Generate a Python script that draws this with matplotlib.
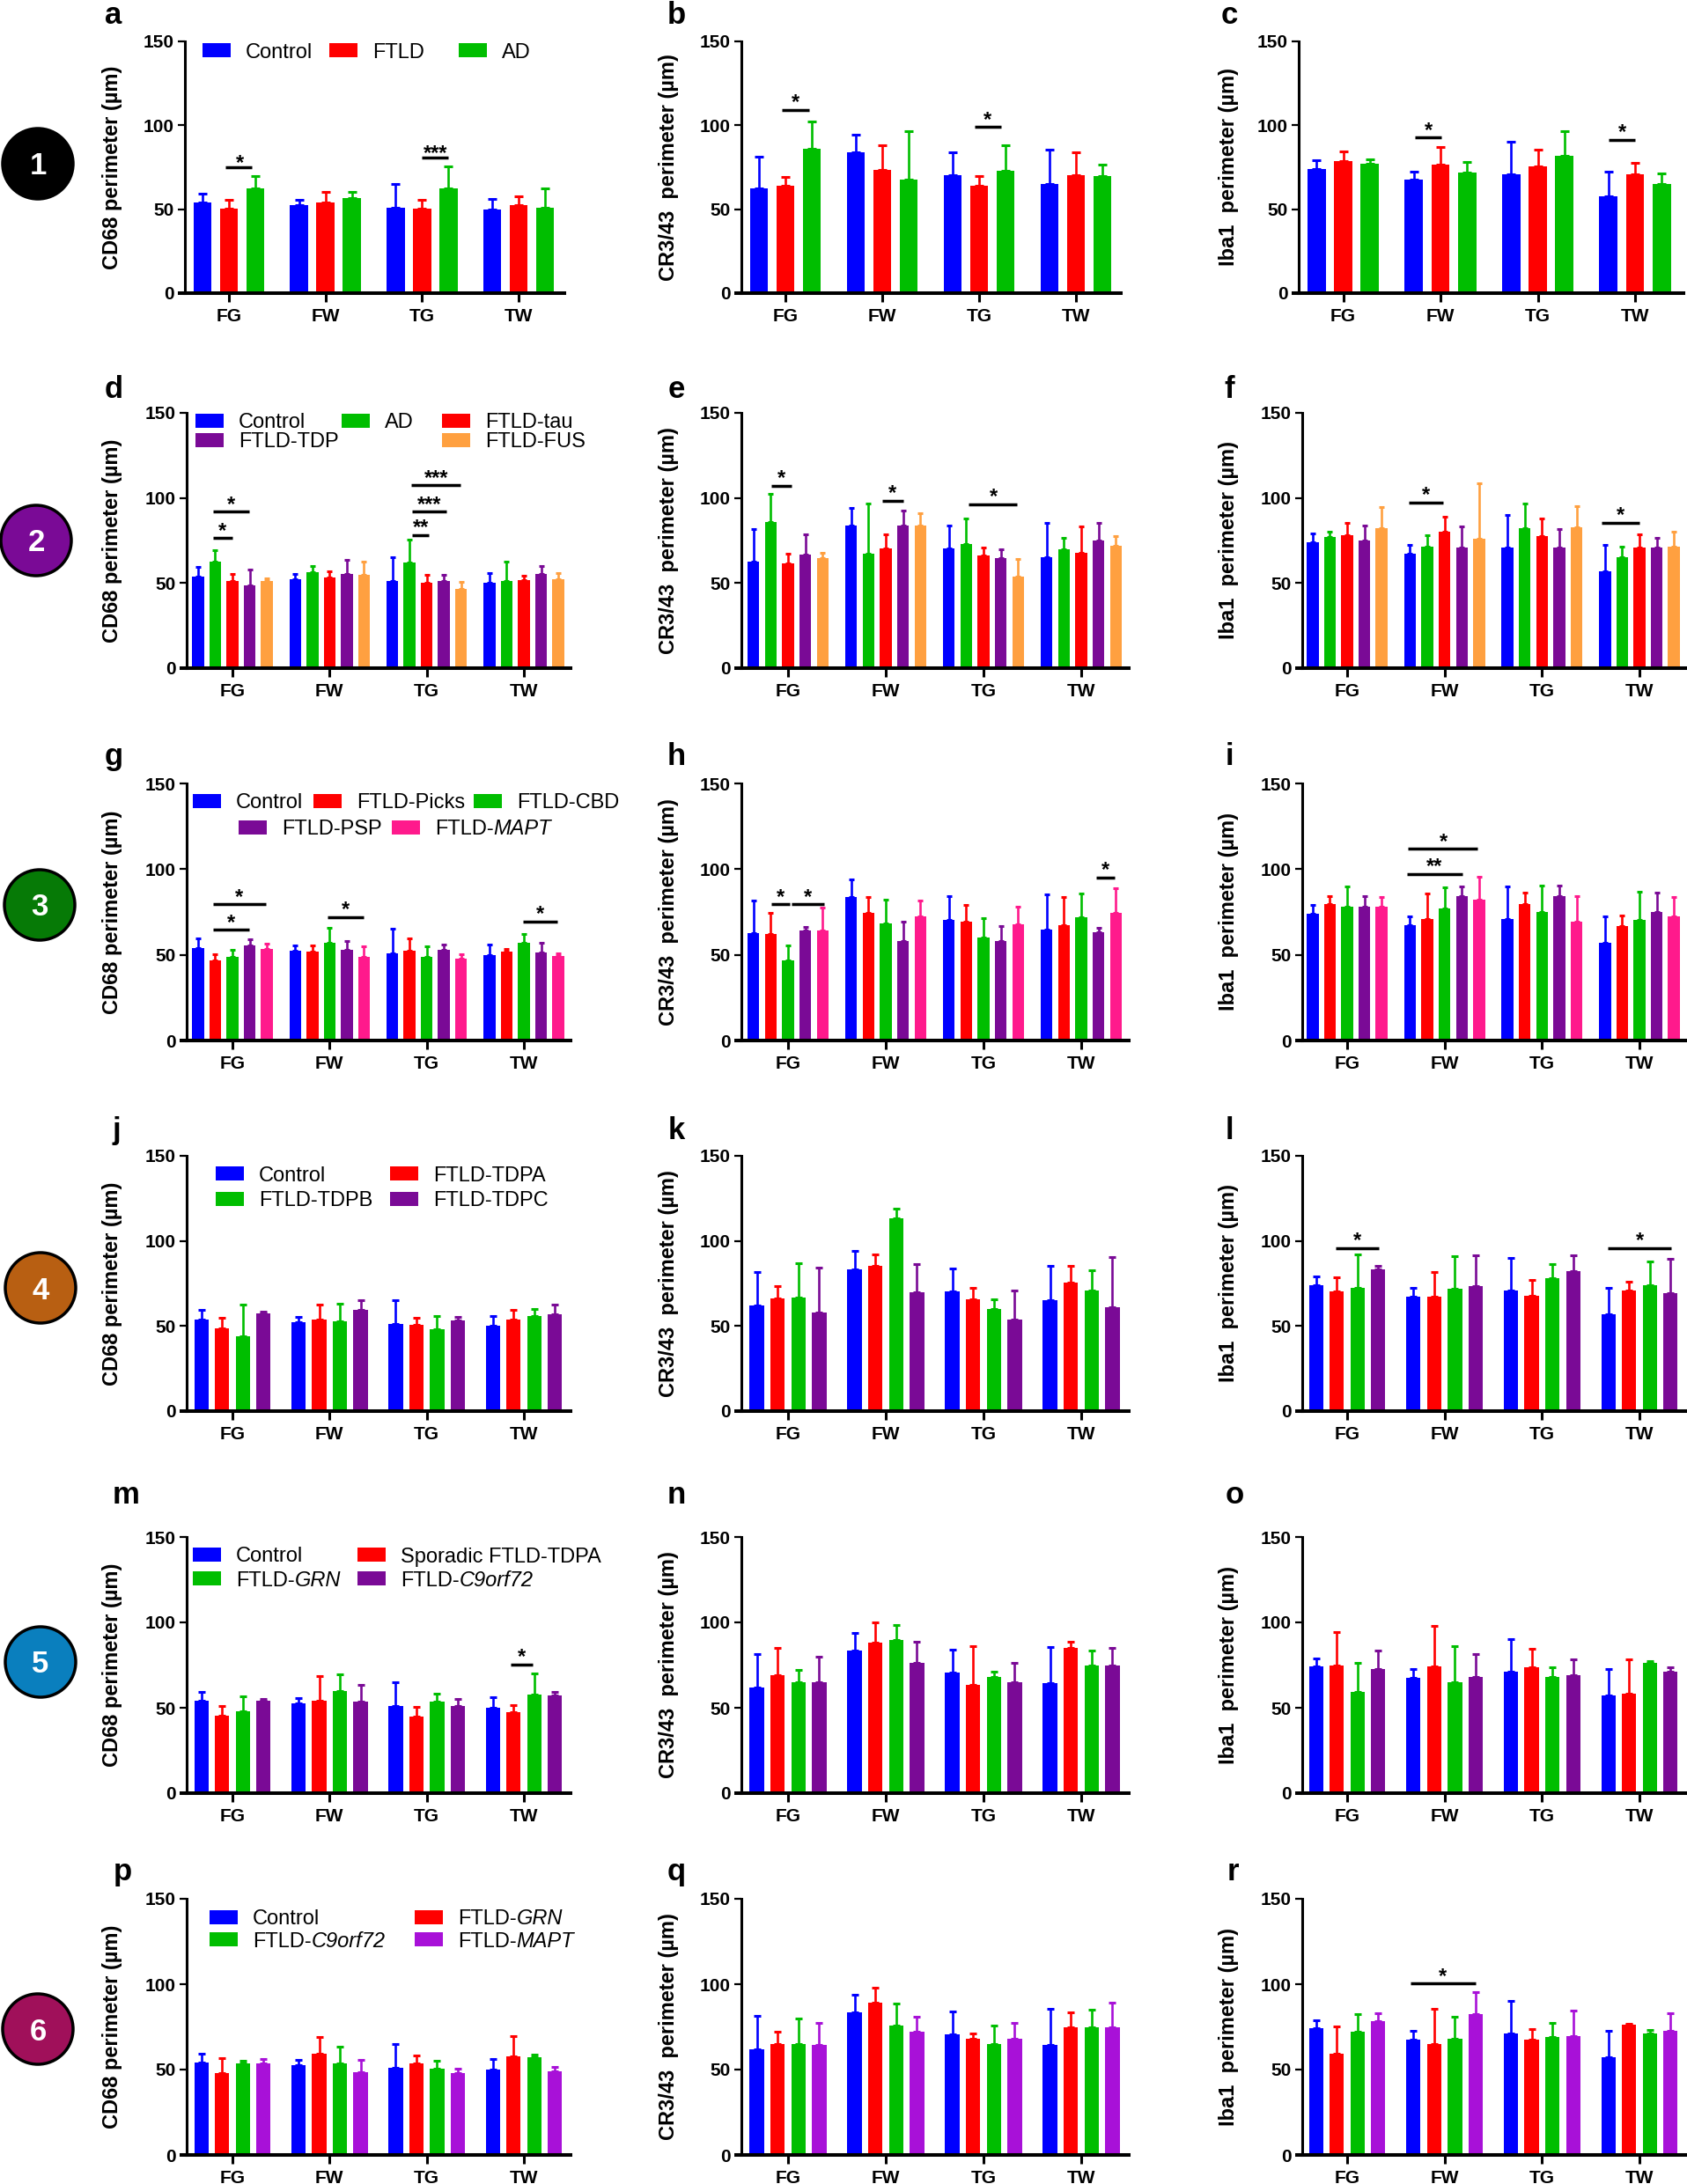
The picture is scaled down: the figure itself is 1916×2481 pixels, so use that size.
# Microglia perimeter bars, 6 rows x 3 markers (CD68, CR3/43, Iba1).
# Values: *_mean = bar height, *_top = end of error bar.
# Each inner list is one region (FG, FW, TG, TW), in legend order.

import numpy as np
import matplotlib
matplotlib.use("Agg")
import matplotlib.pyplot as plt
from matplotlib.patches import Circle, Rectangle

plt.rcParams["font.family"] = ["Liberation Sans", "DejaVu Sans"]

regions = ["FG", "FW", "TG", "TW"]
yticks = [0, 50, 100, 150]

BLUE = "#0000FF"
RED = "#FF0000"
GREEN = "#00BE00"
PURPLE = "#7A0A96"
ORANGE = "#FFA040"
PINK = "#FF1A8C"
VIOLET = "#A811D8"

# row 1: Control, FTLD, AD
a_mean = [[54, 50.5, 62.5], [52.5, 54, 56.5], [51, 50.5, 62.5], [50, 52.5, 51]]
a_top = [[59.5, 55.5, 69.5], [55.5, 60.5, 60.5], [65, 55.5, 75.5], [56, 57.5, 62.5]]
b_mean = [[62.5, 64, 86], [84, 73.5, 67.5], [70.5, 64, 73], [65, 70.5, 70]]
b_top = [[81.5, 69, 102.5], [94.5, 88, 96.5], [84, 69.5, 88], [85.5, 84, 76.5]]
c_mean = [[74, 78.5, 77], [67.5, 76.5, 72], [71, 75.5, 82], [57.5, 71, 65]]
c_top = [[79, 84.5, 79.5], [72.5, 87, 78], [90, 85.5, 96.5], [72.5, 77.5, 71.5]]

# row 2: Control, AD, FTLD-tau, FTLD-TDP, FTLD-FUS
d_mean = [[54, 62.5, 51, 48.5, 51], [52.5, 56.5, 53.5, 55.5, 55], [51, 62, 50, 51, 46.5], [50, 51, 51.5, 55.5, 52]]
d_top = [[59.5, 69.5, 55.5, 58, 53], [55.5, 60, 57, 63.5, 62.5], [65, 75.5, 55, 55, 50.5], [56, 62.5, 54.5, 60, 56]]
e_mean = [[62.5, 86, 61.5, 66.5, 64.5], [84, 67.5, 70.5, 84, 84], [70.5, 73, 66, 64.5, 54], [65, 70, 68, 75, 72]]
e_top = [[81.5, 102.5, 67.5, 78.5, 68], [94, 96.5, 78.5, 92.5, 91], [84, 88, 71, 70, 64], [85.5, 76.5, 83.5, 85.5, 77.5]]
f_mean = [[74, 77, 78, 75, 82.5], [67.5, 71.5, 80, 71, 76], [71, 82, 77.5, 71, 83], [57, 65, 71, 71, 71.5]]
f_top = [[79, 80, 85.5, 84, 94.5], [72.5, 78, 89, 83.5, 108.5], [90, 96.5, 88, 81.5, 95], [72.5, 71.5, 78.5, 76.5, 80]]

# row 3: Control, FTLD-Picks, FTLD-CBD, FTLD-PSP, FTLD-MAPT
g_mean = [[54, 46.5, 49, 55.5, 53.5], [52.5, 52, 57, 53, 49], [51, 52.5, 49, 53, 48], [50, 52, 57, 51.5, 49.5]]
g_top = [[59.5, 50.5, 53, 59, 56.5], [55.5, 55.5, 65.5, 58, 55], [65, 59.5, 55, 56, 50.5], [56, 53.5, 62, 57, 51]]
h_mean = [[62.5, 62, 46.5, 64, 64], [83.5, 74.5, 68.5, 58, 72.5], [70.5, 69.5, 60, 58, 68], [64.5, 67.5, 72, 63, 74.5]]
h_top = [[81.5, 74.5, 55.5, 66.5, 77.5], [94, 83.5, 82, 69.5, 81.5], [84, 79, 71.5, 67, 78], [85.5, 83.5, 86, 65.5, 89]]
i_mean = [[74, 79.5, 78, 78, 78], [67.5, 71, 77, 84.5, 82], [71, 79.5, 75, 84, 69.5], [57, 67, 70.5, 75, 72.5]]
i_top = [[79, 84, 90, 84, 83.5], [72.5, 86, 89.5, 90, 95.5], [90, 86.5, 90.5, 90.5, 84.5], [72.5, 73, 87, 86.5, 83.5]]

# row 4: Control, FTLD-TDPA, FTLD-TDPB, FTLD-TDPC
j_mean = [[54, 48.5, 44, 57.5], [52.5, 54, 53, 59.5], [51, 50.5, 48, 53.5], [50, 54, 56, 57]]
j_top = [[59.5, 55, 62.5, 58.5], [55.5, 62.5, 63, 65], [65, 55, 56, 55.5], [56, 59.5, 60, 62.5]]
k_mean = [[62, 66, 66.5, 58], [83.5, 85.5, 113.5, 70], [70.5, 65.5, 60, 54], [65, 75.5, 71, 61]]
k_top = [[81.5, 73.5, 87, 84.5], [94, 92, 119, 86.5], [84, 72.5, 65.5, 71], [85.5, 85.5, 83, 90.5]]
l_mean = [[74, 70.5, 72.5, 83.5], [67.5, 67.5, 72, 73.5], [71, 68, 78, 82.5], [57, 71, 74, 69.5]]
l_top = [[79, 78.5, 92, 85.5], [72.5, 81.5, 91, 91.5], [90, 77, 86.5, 91.5], [72.5, 76, 88, 89.5]]

# row 5: Control, Sporadic FTLD-TDPA, FTLD-GRN, FTLD-C9orf72
m_mean = [[54, 45.5, 48, 54], [52.5, 54, 60, 53.5], [51, 45, 53.5, 51], [50, 47.5, 57.5, 57]]
m_top = [[59.5, 51, 56.5, 55], [55.5, 68.5, 69.5, 63.5], [65, 50.5, 58.5, 55], [56, 51.5, 70, 59.5]]
n_mean = [[62, 69, 65, 65], [83.5, 88, 89.5, 76.5], [70.5, 63.5, 68, 65], [64.5, 85, 74.5, 75]]
n_top = [[81.5, 85, 72, 80], [94, 100, 98.5, 88.5], [84, 86, 71, 76.5], [85.5, 88.5, 83.5, 85]]
o_mean = [[74, 75, 59.5, 72.5], [67.5, 74, 65, 68], [71, 73.5, 68, 69], [57, 58.5, 76.5, 71]]
o_top = [[79, 94.5, 76.5, 83.5], [72.5, 98, 86, 81.5], [90, 84.5, 73.5, 78.5], [72.5, 78.5, 77.5, 73.5]]

# row 6: Control, FTLD-GRN, FTLD-C9orf72, FTLD-MAPT
p_mean = [[54, 48, 53.5, 53.5], [52.5, 59.5, 53.5, 48.5], [51, 53.5, 50.5, 48], [50, 57.5, 57, 49]]
p_top = [[59.5, 56.5, 55, 56], [55.5, 69, 63.5, 55.5], [65, 58.5, 55, 50.5], [56, 69.5, 59, 51.5]]
q_mean = [[62, 65, 65, 64.5], [83.5, 89, 76, 72], [70.5, 68, 65, 68], [64.5, 74.5, 75, 74.5]]
q_top = [[81.5, 72, 80, 77.5], [94, 98, 88.5, 81], [84, 71, 76, 77.5], [85.5, 83.5, 85, 89]]
r_mean = [[74, 59.5, 72, 78.5], [67.5, 65, 68, 82.5], [71, 67.5, 69, 69.5], [57, 76.5, 71, 72.5]]
r_top = [[79, 75.5, 82.5, 83], [72.5, 85.5, 81, 95.5], [90, 73.5, 77.5, 84.5], [72.5, 77, 73, 83]]

# significance: (x0, x1, y, star x, star y, stars) in data units
a_sig = [(-0.04, 0.24, 75, 0.11, 81, "*"), (2.0, 2.275, 81, 2.14, 86.5, "***")]
b_sig = [(-0.035, 0.243, 109, 0.104, 117, "*"), (1.954, 2.23, 99, 2.09, 106.8, "*")]
c_sig = [(0.738, 1.007, 92.8, 0.876, 100.5, "*"), (2.724, 3.0, 91.4, 2.869, 99.3, "*")]
d_sig = [(-0.195, 0, 76.7, -0.10, 84, "*"), (-0.195, 0.174, 92, -0.01, 99.6, "*"),
         (1.846, 2.025, 78, 1.94, 86, "**"), (1.846, 2.2, 92, 2.03, 99.6, "***"),
         (1.838, 2.344, 107.4, 2.1, 115, "***")]
e_sig = [(-0.17, 0.04, 107, -0.07, 114.8, "*"), (0.96, 1.18, 98.4, 1.07, 106, "*"),
         (1.85, 2.34, 96.4, 2.1, 104, "*")]
f_sig = [(0.63, 0.986, 97.4, 0.807, 105, "*"), (2.614, 3.0, 85.5, 2.807, 93.3, "*")]
g_sig = [(-0.195, 0.174, 64.5, -0.01, 72, "*"), (-0.195, 0.34, 79.4, 0.07, 87, "*"),
         (0.983, 1.349, 72, 1.166, 79.8, "*"), (2.99, 3.34, 69.6, 3.166, 77.2, "*")]
h_sig = [(-0.17, 0.014, 79.4, -0.08, 87, "*"), (0.034, 0.366, 79.4, 0.2, 87, "*"),
         (3.15, 3.345, 95, 3.25, 102.7, "*")]
i_sig = [(0.614, 1.186, 97.1, 0.897, 104.9, "**"), (0.628, 1.338, 111.8, 0.986, 119.5, "*")]
l_sig = [(-0.117, 0.324, 95.7, 0.103, 103.3, "*"), (2.676, 3.324, 95.7, 3.0, 103.3, "*")]
m_sig = [(2.863, 3.095, 75.4, 2.98, 83.3, "*")]
r_sig = [(0.648, 1.317, 100.3, 0.98, 108, "*")]

# legends: label (part after | is italic), colour, patch left px, row centre px
a_legend = [("Control", BLUE, 230, 57), ("FTLD", RED, 374, 57), ("AD", GREEN, 521, 57)]
d_legend = [("Control", BLUE, 222, 478), ("AD", GREEN, 388, 478), ("FTLD-tau", RED, 502, 478),
            ("FTLD-TDP", PURPLE, 222, 500), ("FTLD-FUS", ORANGE, 502, 500)]
g_legend = [("Control", BLUE, 219, 910), ("FTLD-Picks", RED, 356, 910), ("FTLD-CBD", GREEN, 538, 910),
            ("FTLD-PSP", PURPLE, 271, 940), ("FTLD-|MAPT", PINK, 445, 940)]
j_legend = [("Control", BLUE, 245, 1333), ("FTLD-TDPA", RED, 443, 1333),
            ("FTLD-TDPB", GREEN, 245, 1362), ("FTLD-TDPC", PURPLE, 443, 1362)]
m_legend = [("Control", BLUE, 219, 1766), ("Sporadic FTLD-TDPA", RED, 406, 1766),
            ("FTLD-|GRN", GREEN, 219, 1793), ("FTLD-|C9orf72", PURPLE, 406, 1793)]
p_legend = [("Control", BLUE, 238, 2178), ("FTLD-|GRN", RED, 471, 2178),
            ("FTLD-|C9orf72", GREEN, 238, 2203), ("FTLD-|MAPT", VIOLET, 471, 2203)]

row_colors = [
    [BLUE, RED, GREEN],
    [BLUE, GREEN, RED, PURPLE, ORANGE],
    [BLUE, RED, GREEN, PURPLE, PINK],
    [BLUE, RED, GREEN, PURPLE],
    [BLUE, RED, GREEN, PURPLE],
    [BLUE, RED, GREEN, VIOLET],
]
row_legends = [a_legend, d_legend, g_legend, j_legend, m_legend, p_legend]

# values per column, per row
means = [[a_mean, b_mean, c_mean], [d_mean, e_mean, f_mean], [g_mean, h_mean, i_mean],
         [j_mean, k_mean, l_mean], [m_mean, n_mean, o_mean], [p_mean, q_mean, r_mean]]
tops = [[a_top, b_top, c_top], [d_top, e_top, f_top], [g_top, h_top, i_top],
        [j_top, k_top, l_top], [m_top, n_top, o_top], [p_top, q_top, r_top]]
sigs = [[a_sig, b_sig, c_sig], [d_sig, e_sig, f_sig], [g_sig, h_sig, i_sig],
        [[], [], l_sig], [m_sig, [], []], [[], [], r_sig]]

ylabels = ["CD68 perimeter (µm)", "CR3/43  perimeter (µm)", "Iba1  perimeter (µm)"]
ylabel_x = [128, 760, 1396]
letters = ["abc", "def", "ghi", "jkl", "mno", "pqr"]
letter_x = [[129, 768, 1396], [129, 768, 1396], [129, 768, 1396],
            [132, 768, 1396], [143, 768, 1402], [139, 768, 1400]]
letter_y = [27, 452, 869, 1294, 1708, 2136]

# layout in pixels of the full figure
W, H = 1916, 2481
row_y = [(47, 333), (469, 759), (890, 1182), (1313, 1603), (1746, 2037), (2157, 2448)]
# spine, FG tick, TW tick, axis end
col_x_first = [(210, 260, 589, 641), (842, 892, 1222, 1273), (1475, 1525.5, 1857, 1912)]
col_x = [(212, 264, 595, 648), (842, 895, 1228, 1282), (1479, 1530, 1862, 1916)]
# series count -> bar width, bar step, error cap half length (pt)
bar_style = {3: (0.187, 0.274, 3.6), 4: (0.147, 0.213, 2.6), 5: (0.122, 0.177, 2.4)}

badge_colors = ["#000000", "#7A0A96", "#067A06", "#B85F12", "#0A7FBE", "#A0105A"]
badge_xy = [(43, 186), (41, 614), (45, 1028), (46, 1463), (46, 1888), (43, 2305)]


def draw_panel(ax, mean, top, colors, sig):
    mean = np.array(mean, dtype=float)
    top = np.array(top, dtype=float)
    n = mean.shape[1]
    width, step, cap = bar_style[n]
    groups = np.arange(len(regions))
    for i, color in enumerate(colors):
        x = groups + (i - (n - 1) / 2) * step
        ax.bar(x, mean[:, i], width=width, color=color, linewidth=0, zorder=2)
        ax.errorbar(x, mean[:, i], yerr=[np.zeros(len(x)), top[:, i] - mean[:, i]], fmt="none",
                    ecolor=color, elinewidth=1.9, capsize=cap, capthick=2.2, zorder=1.5)

    for x0, x1, y, sx, sy, stars in sig:
        ax.plot([x0, x1], [y, y], color="black", lw=2.5, solid_capstyle="butt", zorder=3)
        ax.annotate(stars, (sx, sy), xytext=(0, -9.5), textcoords="offset points", ha="center",
                    va="baseline", fontsize=17, fontweight="bold")

    ax.set_ylim(0, 150)
    ax.set_yticks(yticks)
    ax.set_xticks(groups)
    ax.set_xticklabels(regions)
    ax.spines["top"].set_visible(False)
    ax.spines["right"].set_visible(False)
    ax.spines["left"].set_linewidth(2.2)
    ax.spines["bottom"].set_linewidth(2.9)
    ax.spines["left"].set_zorder(4)
    ax.spines["bottom"].set_zorder(4)
    ax.tick_params(axis="y", length=6, width=1.6, pad=3, labelsize=15)
    ax.tick_params(axis="x", length=7, width=2.2, pad=5, labelsize=15)
    ax.yaxis.get_major_ticks()[0].tick1line.set_markeredgewidth(2.9)
    for label in ax.get_xticklabels() + ax.get_yticklabels():
        label.set_fontweight("bold")


def main():
    fig = plt.figure(figsize=(W / 100, H / 100), dpi=100)

    for r, (y_top, y_bottom) in enumerate(row_y):
        geometry = col_x_first if r == 0 else col_x
        for c, (spine, first, last, end) in enumerate(geometry):
            ax = fig.add_axes([spine / W, 1 - y_bottom / H, (end - spine) / W, (y_bottom - y_top) / H])
            ax.patch.set_alpha(0)
            spacing = (last - first) / 3
            ax.set_xlim((spine - first) / spacing, (end - first) / spacing)
            draw_panel(ax, means[r][c], tops[r][c], row_colors[r], sigs[r][c])

    # overlay in pixel coordinates for badges, legends and labels
    px = fig.add_axes([0, 0, 1, 1], zorder=10)
    px.set_xlim(0, W)
    px.set_ylim(H, 0)
    px.axis("off")

    for r, (y_top, y_bottom) in enumerate(row_y):
        for c in range(3):
            px.text(ylabel_x[c], (y_top + y_bottom) / 2, ylabels[c], rotation=90, ha="center", va="center",
                    fontsize=17, fontweight="bold")
            px.text(letter_x[r][c], letter_y[r], letters[r][c], ha="center", va="baseline",
                    fontsize=25, fontweight="bold")
        for label, color, x, y in row_legends[r]:
            px.add_patch(Rectangle((x, y - 8), 32, 16, facecolor=color, edgecolor="none"))
            plain, _, italic = label.partition("|")
            t = px.text(x + 49, y + 8.5, plain, ha="left", va="baseline", fontsize=17)
            if italic:
                # italic gene name carries on right after the plain part
                px.annotate(italic, xy=(1, 0), xycoords=t, ha="left", va="bottom",
                            fontsize=17, style="italic")
        bx, by = badge_xy[r]
        px.add_patch(Circle((bx, by), 40, facecolor=badge_colors[r], edgecolor="black", linewidth=2.5))
        px.text(bx, by + 12.5, str(r + 1), color="white", ha="center", va="baseline",
                fontsize=25, fontweight="bold")

    fig.savefig("out.png", dpi=100, facecolor="white")


if __name__ == "__main__":
    main()
